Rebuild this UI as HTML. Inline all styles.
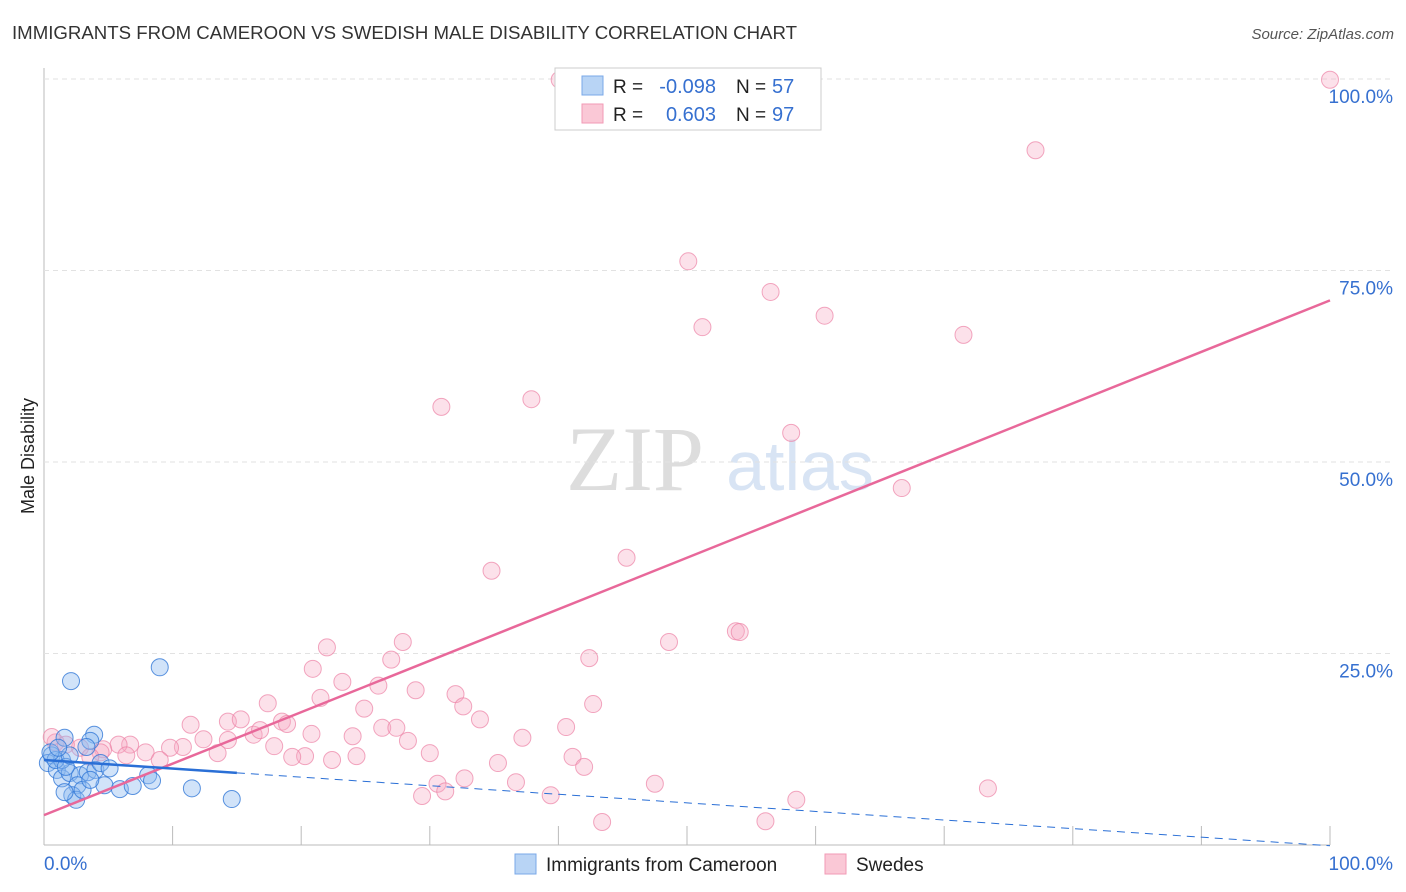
<!DOCTYPE html>
<html><head><meta charset="utf-8"><style>
body{margin:0;background:#fff;font-family:"Liberation Sans",sans-serif}
svg{display:block}
</style></head><body>
<svg id="c" width="1406" height="892" xmlns="http://www.w3.org/2000/svg">
<text x="12" y="39" font-size="18" fill="#333" textLength="785" lengthAdjust="spacingAndGlyphs">IMMIGRANTS FROM CAMEROON VS SWEDISH MALE DISABILITY CORRELATION CHART</text>
<text x="1394" y="39" font-size="15" fill="#555" font-style="italic" text-anchor="end">Source: ZipAtlas.com</text>
<text x="34" y="456" font-size="18" fill="#222" text-anchor="middle" transform="rotate(-90 34 456)">Male Disability</text>
<g><text x="635" y="490" font-size="92" fill="#ddd" font-family="Liberation Serif,serif" text-anchor="middle">ZIP</text><text x="800" y="490" font-size="70" fill="#d8e4f4" text-anchor="middle">atlas</text></g>
<g id="grid"></g><g id="pts"></g><g id="lines"></g>
<g>
<rect x="555" y="68" width="266" height="62" fill="#fff" stroke="#ccc"/>
<rect x="582" y="76" width="21" height="19" fill="#b8d4f5" stroke="#7aa8e8"/>
<rect x="582" y="104" width="21" height="19" fill="#fac8d6" stroke="#f29ab5"/>
<text x="613" y="93" font-size="19" fill="#222">R =</text>
<text x="716" y="93" font-size="20" fill="#3670d0" text-anchor="end">-0.098</text>
<text x="736" y="93" font-size="19" fill="#222">N =</text>
<text x="772" y="93" font-size="20" fill="#3670d0">57</text>
<text x="613" y="121" font-size="19" fill="#222">R =</text>
<text x="716" y="121" font-size="20" fill="#3670d0" text-anchor="end">0.603</text>
<text x="736" y="121" font-size="19" fill="#222">N =</text>
<text x="772" y="121" font-size="20" fill="#3670d0">97</text>
</g>
<g>
<rect x="515" y="854" width="21" height="20" fill="#b8d4f5" stroke="#7aa8e8"/>
<text x="546" y="871" font-size="19" fill="#222">Immigrants from Cameroon</text>
<rect x="825" y="854" width="21" height="20" fill="#fac8d6" stroke="#f29ab5"/>
<text x="856" y="871" font-size="19" fill="#222">Swedes</text>
</g>
</svg>
<script>
const yTicks=[25,50,75,100];
const yTickLabels=["25.0%","50.0%","75.0%","100.0%"];
const pinkX=[40.1,100,77.1,50.1,56.5,51.2,60.7,71.5,30.9,37.9,58.1,66.7,45.3,34.8,53.8,54.1,48.6,27.9,22,42.4,27,20.9,23.2,26,21.5,17.4,28.9,32,32.6,42.7,24.9,33.9,11.4,14.3,15.3,18.5,18.9,20.8,40.6,26.3,27.4,24,37.2,12.4,14.3,16.3,16.8,28.3,17.9,10.8,9.8,6.7,5.8,4.6,2.8,0.9,0.6,7.9,9,13.5,20.3,22.4,19.3,24.3,30,41.1,35.3,42,6.4,4.4,32.7,30.6,36.7,47.5,31.2,29.4,39.4,58.5,73.4,43.4,56.1,1.7,3.6];
const pinkY=[99.9,99.9,90.7,76.2,72.2,67.6,69.1,66.6,57.2,58.2,53.8,46.6,37.5,35.8,27.9,27.8,26.5,26.5,25.8,24.4,24.2,23,21.3,20.8,19.2,18.5,20.2,19.7,18.1,18.4,17.8,16.4,15.7,16.1,16.4,16.1,15.8,14.5,15.4,15.3,15.3,14.2,14,13.8,13.7,14.4,15,13.6,12.9,12.8,12.7,13.1,13.1,12.5,12.7,13.4,14.1,12.1,11.1,12,11.6,11.1,11.5,11.6,12,11.5,10.7,10.2,11.7,12.1,8.7,8,8.2,8,7,6.4,6.5,5.9,7.4,3,3.1,13.1,11.5];
const blueX=[9,2.1,3.9,3.6,1.6,0.6,0.3,1,1.4,2,2.8,3.4,4,4.4,2.6,2.2,2.5,3,4.7,5.9,6.9,8.1,8.4,11.5,14.6,1.4,0.9,0.5,1.7,3.3,2,1.1,5.1,1.6,3.6];
const blueY=[23.2,21.4,14.4,13.6,14,11.7,10.7,9.8,8.7,9.4,9.1,9.5,9.8,10.7,7.8,6.5,5.9,7.2,7.8,7.3,7.7,9.1,8.4,7.4,6,11.1,11.1,12.1,10.2,12.8,11.7,12.7,10,6.9,8.5];
const pinkFit=[3.9,71.1];
const blueFit=[11.1,-0.1];
const X=v=>44+v*12.86, Y=v=>845-v*7.66;
const NS="http://www.w3.org/2000/svg";
function mk(t,a,p){const e=document.createElementNS(NS,t);for(const k in a)e.setAttribute(k,a[k]);p.appendChild(e);return e;}
const g=document.getElementById('grid');
let ax=mk('line',{x1:44,y1:68,x2:44,y2:845,stroke:'#bbb'},g);


let bx=mk('line',{x1:44,y1:845,x2:1330,y2:845,stroke:'#bbb'},g);


yTicks.forEach((t,i)=>{
 const l=mk('line',{x1:44,x2:1394,y1:Y(t),y2:Y(t),stroke:'#e2e2e2','stroke-dasharray':'5,4'},g);
 
 
 const tx=mk('text',{x:1393,y:Y(t)+24,'font-size':19,fill:'#3670d0','text-anchor':'end'},g);
 tx.textContent=yTickLabels[i];
 
 
});
for(let i=0;i<=10;i++){
 const l=mk('line',{x1:X(i*10),x2:X(i*10),y1:826,y2:845,stroke:'#bbb'},g);
 
 
}
[[0,"0.0%","start",44],[100,"100.0%","end",1393]].forEach(d=>{
 const tx=mk('text',{x:d[3],y:870,'font-size':19,fill:'#3670d0','text-anchor':d[2]},g);
 tx.textContent=d[1];
 
 
});
const p=document.getElementById('pts');
pinkX.forEach((v,i)=>{
 const c=mk('circle',{cx:X(v),cy:Y(pinkY[i]),r:8.5,fill:'rgba(246,170,195,0.35)',stroke:'rgba(236,130,165,0.7)','stroke-width':1},p);
 
 
});
blueX.forEach((v,i)=>{
 const c=mk('circle',{cx:X(v),cy:Y(blueY[i]),r:8.5,fill:'rgba(140,185,240,0.4)',stroke:'rgba(50,120,215,0.8)','stroke-width':1},p);
 
 
});
const L=document.getElementById('lines');
let pl=mk('line',{x1:X(0),y1:Y(pinkFit[0]),x2:X(100),y2:Y(pinkFit[1]),stroke:'#e8689a','stroke-width':2.5},L);


const bAt=v=>blueFit[0]+(blueFit[1]-blueFit[0])*v/100;
let bl=mk('line',{x1:X(0),y1:Y(bAt(0)),x2:X(15),y2:Y(bAt(15)),stroke:'#2a6fd6','stroke-width':2.5},L);


let bd=mk('line',{x1:X(15),y1:Y(bAt(15)),x2:X(100),y2:Y(bAt(100)),stroke:'#2a6fd6','stroke-width':1,'stroke-dasharray':'8,6'},L);


</script>
</body></html>
